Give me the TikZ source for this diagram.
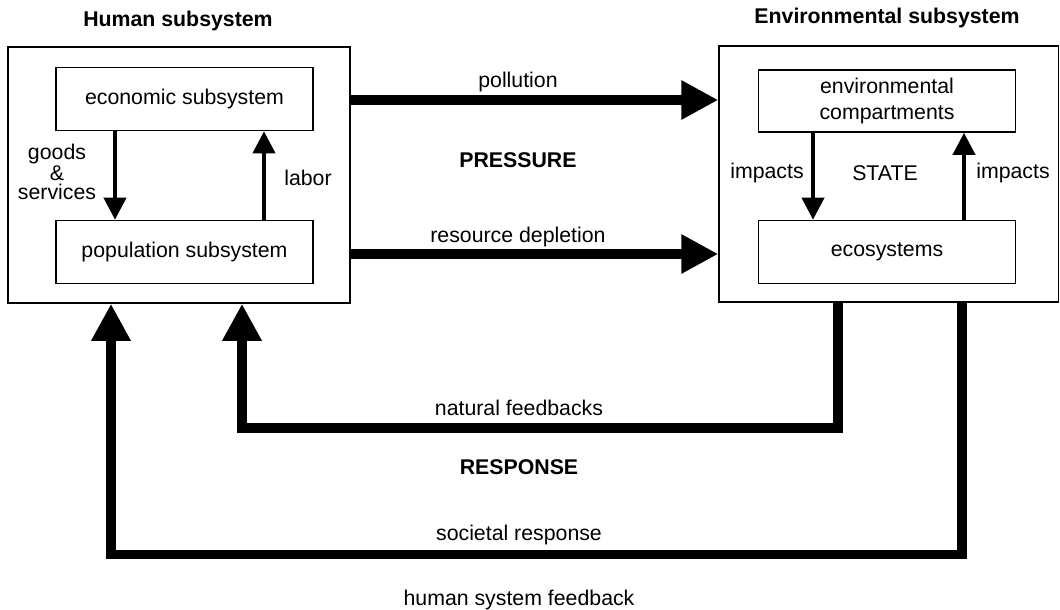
\documentclass[tikz,border=0pt]{standalone}
\usepackage{fontspec}
\setmainfont{Liberation Sans}
\usetikzlibrary{positioning,arrows.meta}

\begin{document}
\begin{tikzpicture}[x=0.5pt,y=-0.5pt,font=\fontsize{10.65}{13}\selectfont]
    \tikzstyle{outer}=[draw, line width=0.75pt, inner sep=0pt]
    \tikzstyle{sub}=[draw, line width=0.8pt, align=center, inner sep=0pt, minimum width=128.5pt, minimum height=31.5pt]
    \tikzstyle{title}=[font=\fontsize{10.65}{13}\selectfont\bfseries]
    \tikzstyle{flow}=[line width=2pt, -{Triangle[length=11pt,width=11pt]}]
    \tikzstyle{bigflow}=[line width=4.7pt, -{Triangle[length=18.5pt,width=18.5pt]}]
    \useasboundingbox (0,0) rectangle (1060,610);

    % the two subsystems
    \node[outer, minimum width=171pt, minimum height=128pt] (human) at (179,175) {};
    \node[outer, minimum width=169.75pt, minimum height=128pt] (env) at (888.75,174) {};
    \node[title] (humantitle) at (178,21) {Human subsystem};
    \node[title] (envtitle) at (887,18) {Environmental subsystem};

    \node[sub] (econ) at (184.5,99) {economic subsystem};
    \node[sub] (pop) at (184.5,252) {population subsystem};
    \node[sub, minimum height=31pt] (comp) at (887,101) {environmental\\compartments};
    \node[sub] (eco) at (887,252) {ecosystems};

    % arrows inside the boxes
    \coordinate (goodsx) at (115,0);
    \coordinate (laborx) at (264,0);
    \coordinate (downx) at (813,0);
    \coordinate (upx) at (964,0);
    \draw[flow] (econ.south -| goodsx) -- (pop.north -| goodsx);
    \draw[flow] (pop.north -| laborx) -- (econ.south -| laborx);
    \draw[flow] (comp.south -| downx) -- (eco.north -| downx);
    \draw[flow] (eco.north -| upx) -- (comp.south -| upx);
    \node[align=center, font=\fontsize{10.65}{9.2}\selectfont] (goods) at (57,172) {goods\\\&\\services};
    \node (labor) at (308,178) {labor};
    \node (impactsl) at (767,173) {impacts};
    \node (state) at (885,173) {STATE};
    \node (impactsr) at (1013,173) {impacts};

    % pressure
    \coordinate (polly) at (0,100);
    \coordinate (resy) at (0,254);
    \draw[bigflow] (human.east |- polly) -- (env.west |- polly);
    \draw[bigflow] (human.east |- resy) -- (env.west |- resy);
    \node (pollution) at (518,82) {pollution};
    \node[title] (pressure) at (518,160) {PRESSURE};
    \node (depletion) at (518,237) {resource depletion};

    % response
    \coordinate (natr) at (838,428);
    \coordinate (natl) at (242,428);
    \coordinate (socr) at (962,554.5);
    \coordinate (socl) at (111,554.5);
    \draw[bigflow] (env.south -| natr) -- (natr) -- (natl) -- (human.south -| natl);
    \draw[bigflow] (env.south -| socr) -- (socr) -- (socl) -- (human.south -| socl);
    \node (natural) at (519,408) {natural feedbacks};
    \node[title] (response) at (519,467) {RESPONSE};
    \node (societal) at (519,535) {societal response};
    \node (feedback) at (519,600) {human system feedback};
\end{tikzpicture}
\end{document}
